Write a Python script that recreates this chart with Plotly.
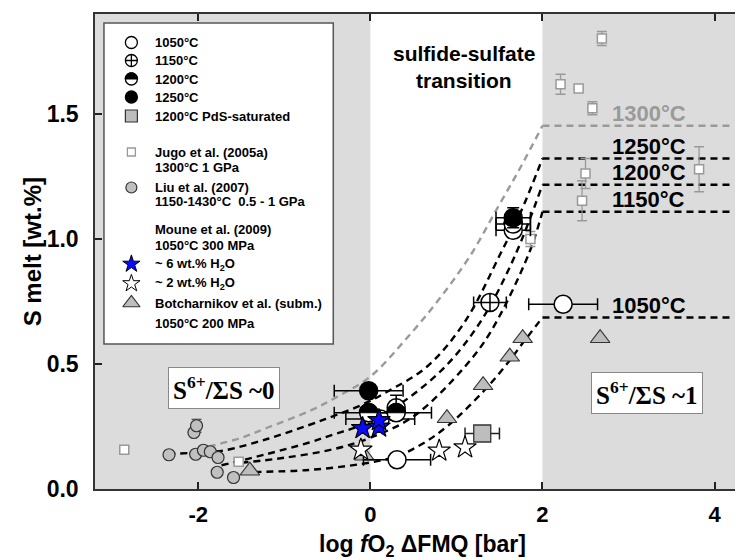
import plotly.graph_objects as go

# ---------------- data ----------------
# this study
t1050_x = [0.31, 2.24, 1.66]
t1050_y = [0.117, 0.739, 1.035]
t1050_xerr = [0.39, 0.40, 0.20]

t1150_x = [1.39, 0.115, 0.30]
t1150_y = [0.746, 0.28, 0.325]
t1150_xerr = [0.19, 0.40, 0.0]
t1150_yerr = [0.0, 0.0, 0.05]

t1200_x = [-0.02, 0.30, 1.66]
t1200_y = [0.305, 0.305, 1.06]
t1200_xerr = [0.40, 0.41, 0.20]

t1250_x = [-0.02, 1.66]
t1250_y = [0.393, 1.085]
t1250_xerr = [0.40, 0.20]
t1250_yerr = [0.0, 0.04]

pds_x = [1.30]
pds_y = [0.222]
pds_xerr = [0.20]

# Jugo et al. (2005a)
jugo_x = [-2.86, -1.53, 1.86, 2.21, 2.42, 2.58, 2.69, 2.50, 2.46, 3.82]
jugo_y = [0.157, 0.109, 1.00, 1.619, 1.602, 1.523, 1.802, 1.262, 1.153, 1.279]
jugo_yerr = [0.012, 0.012, 0.03, 0.04, 0.0, 0.026, 0.028, 0.06, 0.08, 0.09]

# Liu et al. (2007)
liu_x = [-2.34, -2.03, -1.94, -1.86, -1.77, -1.78, -1.59, -2.05, -2.02]
liu_y = [0.137, 0.139, 0.155, 0.149, 0.126, 0.067, 0.046, 0.226, 0.253]
liu_yerr = [0.01, 0.01, 0.01, 0.01, 0.01, 0.01, 0.01, 0.01, 0.026]

# Moune et al. (2009)
moune6_x = [-0.09, 0.10, 0.10]
moune6_y = [0.243, 0.249, 0.275]
moune2_x = [-0.11, 0.80, 1.10]
moune2_y = [0.157, 0.153, 0.166]

# Botcharnikov et al.
botch_x = [-1.40, -0.07, 0.89, 1.31, 1.62, 1.77, 2.67]
botch_y = [0.073, 0.133, 0.283, 0.415, 0.529, 0.603, 0.603]

# model curves
curve_1300_x = [-1.88, -1.5, -1.2, -0.72, -0.38, 0.0, 0.43, 0.8, 1.16, 1.47, 1.75, 2.0]
curve_1300_y = [0.17, 0.205, 0.245, 0.31, 0.37, 0.45, 0.606, 0.76, 0.933, 1.12, 1.29, 1.453]
curve_1250_x = [-2.35, -1.9, -1.69, -1.2, -0.72, -0.42, -0.11, 0.2, 0.66, 1.1, 1.51, 1.75, 2.0]
curve_1250_y = [0.14, 0.148, 0.155, 0.20, 0.255, 0.293, 0.335, 0.39, 0.49, 0.67, 0.94, 1.11, 1.322]
curve_1200_x = [-1.73, -1.2, -0.72, -0.42, -0.11, 0.3, 0.86, 1.3, 1.68, 2.0]
curve_1200_y = [0.095, 0.14, 0.185, 0.219, 0.255, 0.33, 0.486, 0.68, 0.933, 1.217]
curve_1150_x = [-1.5, -1.0, -0.42, 0.0, 0.5, 1.09, 1.4, 1.84, 2.0]
curve_1150_y = [0.105, 0.125, 0.16, 0.205, 0.29, 0.486, 0.63, 0.94, 1.109]
curve_1050_x = [-1.35, -0.72, -0.11, 0.3, 0.6, 0.89, 1.32, 1.63, 1.76, 2.0]
curve_1050_y = [0.068, 0.076, 0.10, 0.13, 0.18, 0.25, 0.393, 0.519, 0.579, 0.686]

plateau_labels = ["1300°C", "1250°C", "1200°C", "1150°C", "1050°C"]
plateau_levels = [1.453, 1.322, 1.217, 1.109, 0.686]
plateau_end = 4.2

x_ticks = [-2, 0, 2, 4]
y_ticks = [0.0, 0.5, 1.0, 1.5]

# ---------------- layout constants ----------------
W, H = 743, 560
ML, MR, MT, MB = 87, 0, 6, 79
XR = [-3.2, 4.4]
YR = [0.0, 1.9]
PX_X = (W - ML - MR) / (XR[1] - XR[0])
PX_Y = (H - MT - MB) / (YR[1] - YR[0])
FONT = "Liberation Sans, Arial, sans-serif"
SERIF = "Liberation Serif, Times New Roman, serif"
GRAY_BG = "#dcdcdc"

fig = go.Figure()

# curves
curve_sets = [
    (curve_1300_x, curve_1300_y, "#9a9a9a"),
    (curve_1250_x, curve_1250_y, "black"),
    (curve_1200_x, curve_1200_y, "black"),
    (curve_1150_x, curve_1150_y, "black"),
    (curve_1050_x, curve_1050_y, "black"),
]
for (cx, cy, col), lev in zip(curve_sets, plateau_levels):
    fig.add_trace(go.Scatter(x=cx, y=cy, mode="lines",
                             line=dict(color=col, width=2.4, dash="7px,5px", shape="spline", smoothing=1.0),
                             hoverinfo="skip", showlegend=False))
    fig.add_trace(go.Scatter(x=[cx[-1], plateau_end], y=[lev, lev], mode="lines",
                             line=dict(color=col, width=2.4, dash="7px,5px"),
                             hoverinfo="skip", showlegend=False))

# literature data
fig.add_trace(go.Scatter(x=jugo_x, y=jugo_y, mode="markers",
                         marker=dict(symbol="square", size=9, color="white", line=dict(color="#999999", width=1.5)),
                         error_y=dict(type="data", array=jugo_yerr, color="#999999", thickness=1.3, width=5),
                         showlegend=False))
fig.add_trace(go.Scatter(x=liu_x, y=liu_y, mode="markers",
                         marker=dict(symbol="circle", size=12, color="#c0c0c0", line=dict(color="#333333", width=1.2)),
                         error_y=dict(type="data", array=liu_yerr, color="#333333", thickness=1.2, width=5),
                         showlegend=False))
fig.add_trace(go.Scatter(x=botch_x, y=botch_y, mode="markers",
                         marker=dict(symbol="triangle-up", size=17, color="#bdbdbd", line=dict(color="#333333", width=1.2)),
                         showlegend=False))
fig.add_trace(go.Scatter(x=pds_x, y=pds_y, mode="markers",
                         marker=dict(symbol="square", size=17, color="#bdbdbd", line=dict(color="#333333", width=1.3)),
                         error_x=dict(type="data", array=pds_xerr, color="#222222", thickness=1.5, width=6),
                         showlegend=False))

# this study
fig.add_trace(go.Scatter(x=t1050_x, y=t1050_y, mode="markers",
                         marker=dict(symbol="circle", size=18, color="white", line=dict(color="black", width=1.5)),
                         error_x=dict(type="data", array=t1050_xerr, color="black", thickness=1.5, width=6),
                         showlegend=False))
fig.add_trace(go.Scatter(x=t1150_x, y=t1150_y, mode="markers",
                         marker=dict(symbol="circle-cross", size=18, color="white", line=dict(color="black", width=1.5)),
                         error_x=dict(type="data", array=t1150_xerr, color="black", thickness=1.5, width=6),
                         error_y=dict(type="data", array=t1150_yerr, color="black", thickness=1.5, width=6),
                         showlegend=False))
fig.add_trace(go.Scatter(x=t1200_x, y=t1200_y, mode="markers",
                         marker=dict(symbol="circle", size=18, color="white", line=dict(color="black", width=1.5)),
                         error_x=dict(type="data", array=t1200_xerr, color="black", thickness=1.5, width=6),
                         showlegend=False))
fig.add_trace(go.Scatter(x=t1250_x, y=t1250_y, mode="markers",
                         marker=dict(symbol="circle", size=18, color="black", line=dict(color="black", width=1.5)),
                         error_x=dict(type="data", array=t1250_xerr, color="black", thickness=1.5, width=6),
                         error_y=dict(type="data", array=t1250_yerr, color="black", thickness=1.5, width=6),
                         showlegend=False))

fig.add_trace(go.Scatter(x=moune2_x, y=moune2_y, mode="markers",
                         marker=dict(symbol="star", size=17, color="white", line=dict(color="black", width=1.2)),
                         showlegend=False))
fig.add_trace(go.Scatter(x=moune6_x, y=moune6_y, mode="markers",
                         marker=dict(symbol="star", size=17, color="#0a0aff", line=dict(color="black", width=1.2)),
                         showlegend=False))

shapes = []
# background bands
shapes.append(dict(type="rect", xref="x", yref="paper", x0=XR[0], x1=0, y0=0, y1=1,
                   fillcolor=GRAY_BG, line=dict(width=0), layer="below"))
shapes.append(dict(type="rect", xref="x", yref="paper", x0=2, x1=XR[1], y0=0, y1=1,
                   fillcolor=GRAY_BG, line=dict(width=0), layer="below"))


def half_top(cx, cy, rx, ry):
    k = 0.5523
    return ("M {a},{b} C {c},{d} {e},{f} {g},{h} C {i},{j} {k2},{l} {m},{n} Z".format(
        a=cx - rx, b=cy, c=cx - rx, d=cy + k * ry, e=cx - k * rx, f=cy + ry, g=cx, h=cy + ry,
        i=cx + k * rx, j=cy + ry, k2=cx + rx, l=cy + k * ry, m=cx + rx, n=cy))


r_px = 9.5
for hx, hy in zip(t1200_x, t1200_y):
    shapes.append(dict(type="path", xref="x", yref="y",
                       path=half_top(hx, hy, r_px / PX_X, r_px / PX_Y),
                       fillcolor="black", line=dict(color="black", width=1), layer="above"))

# legend box (pixel coordinates on x2/y2)
LB = dict(x0=96, x1=326, y0=15, y1=336)
shapes.append(dict(type="rect", xref="x2", yref="y2", x0=LB["x0"], x1=LB["x1"], y0=LB["y0"], y1=LB["y1"],
                   fillcolor="white", line=dict(color="#555555", width=1.5), layer="below"))

# legend symbols
SX = 123.5
leg_rows = {
    "1050": 34.5, "1150": 52.5, "1200": 71, "1250": 89, "pds": 108,
    "jugo": 144, "liu": 179.5, "m6": 256, "m2": 275.5, "bot": 295,
}
def leg_marker(y, **mk):
    fig.add_trace(go.Scatter(x=[SX], y=[y], xaxis="x2", yaxis="y2", mode="markers",
                             marker=mk, showlegend=False, hoverinfo="skip"))

leg_marker(leg_rows["1050"], symbol="circle", size=12, color="white", line=dict(color="black", width=1.3))
leg_marker(leg_rows["1150"], symbol="circle-cross", size=12, color="white", line=dict(color="black", width=1.3))
leg_marker(leg_rows["1200"], symbol="circle", size=12, color="white", line=dict(color="black", width=1.3))
leg_marker(leg_rows["1250"], symbol="circle", size=12, color="black", line=dict(color="black", width=1.3))
leg_marker(leg_rows["pds"], symbol="square", size=12, color="#bdbdbd", line=dict(color="#333333", width=1.2))
leg_marker(leg_rows["jugo"], symbol="square", size=8, color="white", line=dict(color="#999999", width=1.3))
leg_marker(leg_rows["liu"], symbol="circle", size=11, color="#c0c0c0", line=dict(color="#333333", width=1.2))
leg_marker(leg_rows["m6"], symbol="star", size=13, color="#0a0aff", line=dict(color="black", width=1))
leg_marker(leg_rows["m2"], symbol="star", size=13, color="white", line=dict(color="black", width=1))
leg_marker(leg_rows["bot"], symbol="triangle-up", size=15, color="#bdbdbd", line=dict(color="#333333", width=1.2))
shapes.append(dict(type="path", xref="x2", yref="y2",
                   path=half_top(SX, leg_rows["1200"], 6.3, -6.3),
                   fillcolor="black", line=dict(color="black", width=1), layer="above"))

annotations = []
TX = 145
leg_texts = [
    (34.5, "1050°C"), (52.5, "1150°C"), (71, "1200°C"), (89, "1250°C"), (108, "1200°C PdS-saturated"),
    (144, "Jugo et al. (2005a)"), (159.5, "1300°C 1 GPa"),
    (179.5, "Liu et al. (2007)"), (193, "1150-1430°C\u00a0\u00a00.5 - 1 GPa"),
    (221, "Moune et al. (2009)"), (237.5, "1050°C 300 MPa"),
    (256, "~ 6 wt.% H<sub>2</sub>O"), (275.5, "~ 2 wt.% H<sub>2</sub>O"),
    (295, "Botcharnikov et al. (subm.)"), (315, "1050°C 200 MPa"),
]
for ty, tt in leg_texts:
    annotations.append(dict(xref="x2", yref="y2", x=TX, y=ty, text="<b>" + tt + "</b>",
                            xanchor="left", yanchor="middle", showarrow=False,
                            font=dict(family=FONT, size=13, color="black")))

# temperature labels
for lab, lev, in zip(plateau_labels, plateau_levels):
    col = "#9a9a9a" if lab == "1300°C" else "black"
    annotations.append(dict(xref="x", yref="y", x=2.79, y=lev, yshift=12, text="<b>" + lab + "</b>",
                            xanchor="left", yanchor="middle", showarrow=False,
                            font=dict(family=FONT, size=22, color=col)))

# transition label
annotations.append(dict(xref="x2", yref="y2", x=457, y=45, text="<b>sulfide-sulfate</b>",
                        showarrow=False, xanchor="center", yanchor="middle",
                        font=dict(family=FONT, size=21, color="black")))
annotations.append(dict(xref="x2", yref="y2", x=457, y=72, text="<b>transition</b>",
                        showarrow=False, xanchor="center", yanchor="middle",
                        font=dict(family=FONT, size=21, color="black")))

# S6+/ΣS boxes
for bx, by, val in [(216.5, 379.5, "0"), (641, 385, "1")]:
    annotations.append(dict(xref="x2", yref="y2", x=bx, y=by,
                            text="<b>S<sup>6+</sup>/ΣS ~" + val + "</b>",
                            showarrow=False, xanchor="center", yanchor="middle",
                            bgcolor="white", bordercolor="#888888", borderwidth=1, borderpad=4,
                            font=dict(family=SERIF, size=25, color="black")))

# axis titles
annotations.append(dict(xref="paper", yref="paper", x=-0.095, y=0.5, xanchor="center", yanchor="middle",
                        text="<b>S melt [wt.%]</b>", textangle=-90, showarrow=False,
                        font=dict(family=FONT, size=24, color="black")))
annotations.append(dict(xref="paper", yref="paper", x=(415 - ML) / (W - ML - MR),
                        y=(H - MB - 537) / (H - MT - MB), xanchor="center", yanchor="middle",
                        text="<b>log <i>f</i>O<sub>2</sub> ΔFMQ [bar]</b>", showarrow=False,
                        font=dict(family=FONT, size=23, color="black")))

fig.update_layout(
    width=W, height=H,
    margin=dict(l=ML, r=MR, t=MT, b=MB),
    paper_bgcolor="white", plot_bgcolor="white",
    showlegend=False,
    shapes=shapes, annotations=annotations,
    xaxis=dict(range=XR, showgrid=False, zeroline=False, showline=True, linecolor="#333333", linewidth=1.5,
               mirror="ticks", ticks="inside", ticklen=7, tickwidth=1.5, tickcolor="#222222",
               tickvals=x_ticks, ticktext=["<b>%d</b>" % v for v in x_ticks],
               tickfont=dict(family=FONT, size=22, color="black"), ticklabelstandoff=5),
    yaxis=dict(range=YR, showgrid=False, zeroline=False, showline=True, linecolor="#333333", linewidth=1.5,
               mirror="ticks", ticks="inside", ticklen=7, tickwidth=1.5, tickcolor="#222222",
               tickvals=y_ticks, ticktext=["<b>%.1f</b>" % v for v in y_ticks],
               tickfont=dict(family=FONT, size=23, color="black"), ticklabelstandoff=10),
    xaxis2=dict(range=[ML, W - MR], domain=[0, 1], overlaying="x", visible=False, fixedrange=True),
    yaxis2=dict(range=[H - MB, MT], domain=[0, 1], overlaying="y", visible=False, fixedrange=True),
)

fig.write_html("out.html")
